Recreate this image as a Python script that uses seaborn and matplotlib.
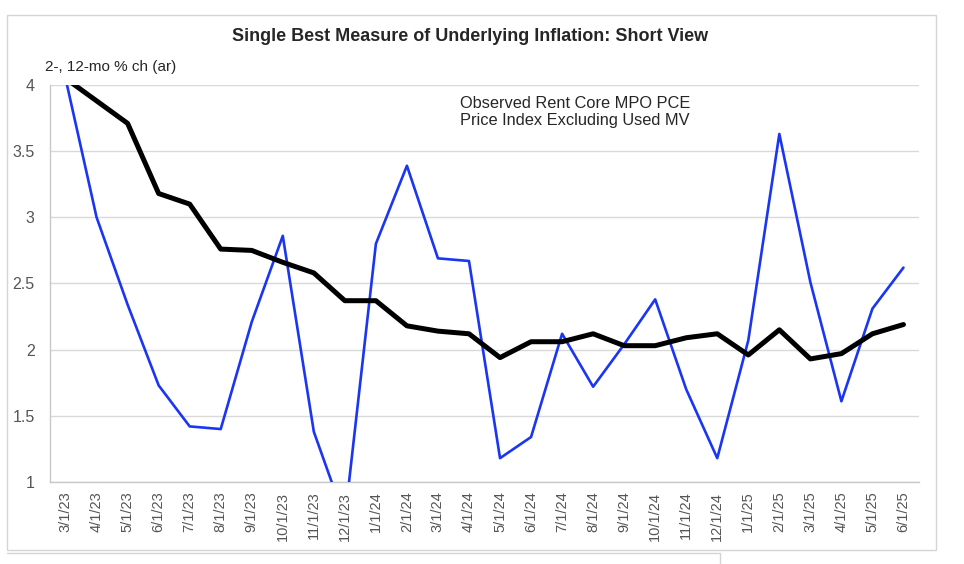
"""
Single Best Measure of Underlying Inflation: Short View
Observed rent core MPO PCE price index excluding used MV vs. its 12-mo change.
"""

import numpy as np
import pandas as pd
import seaborn as sns
import matplotlib.pyplot as plt
from matplotlib.patches import Rectangle
from matplotlib.lines import Line2D


# ---------------------------
# Data
# ---------------------------

months = [
    "3/1/23", "4/1/23", "5/1/23", "6/1/23", "7/1/23", "8/1/23", "9/1/23",
    "10/1/23", "11/1/23", "12/1/23", "1/1/24", "2/1/24", "3/1/24", "4/1/24",
    "5/1/24", "6/1/24", "7/1/24", "8/1/24", "9/1/24", "10/1/24", "11/1/24",
    "12/1/24", "1/1/25", "2/1/25", "3/1/25", "4/1/25", "5/1/25", "6/1/25",
]

two_month = [
    4.05, 3.00, 2.34, 1.73, 1.42, 1.40, 2.21, 2.86, 1.38, 0.72,
    2.80, 3.39, 2.69, 2.67, 1.18, 1.34, 2.12, 1.72, 2.04, 2.38,
    1.70, 1.18, 2.07, 3.63, 2.51, 1.61, 2.31, 2.62,
]

twelve_month = [
    4.05, 3.88, 3.71, 3.18, 3.10, 2.76, 2.75, 2.66, 2.58, 2.37,
    2.37, 2.18, 2.14, 2.12, 1.94, 2.06, 2.06, 2.12, 2.03, 2.03,
    2.09, 2.12, 1.96, 2.15, 1.93, 1.97, 2.12, 2.19,
]

y_ticks = [1, 1.5, 2, 2.5, 3, 3.5, 4]

df = pd.DataFrame({
    "pos": np.arange(len(months)),
    "month": months,
    "two_month": two_month,
    "twelve_month": twelve_month,
})


# ---------------------------
# Style
# ---------------------------

sns.set_theme(style="white")
plt.rcParams["font.family"] = ["Liberation Sans", "DejaVu Sans"]

tick_gray = "#555555"
grid_gray = "#d9d9d9"


# ---------------------------
# Figure
# ---------------------------

fig = plt.figure(figsize=(9.64, 5.64), dpi=100)
ax = fig.add_axes([0.0519, 0.1454, 0.9014, 0.7039])

# outer chart frame
fig.patches.append(Rectangle(
    (7 / 964, 1 - 550 / 564), 929 / 964, 535 / 564,
    transform=fig.transFigure, fill=False, edgecolor="#d4d4d4", linewidth=1.0
))
fig.lines.append(Line2D([7 / 964, 720 / 964], [1 - 553 / 564] * 2,
                        transform=fig.transFigure, color="#d4d4d4", lw=1.0))
fig.lines.append(Line2D([720 / 964, 720 / 964], [0, 1 - 553 / 564],
                        transform=fig.transFigure, color="#d4d4d4", lw=1.0))

sns.lineplot(data=df, x="pos", y="two_month", ax=ax, sort=False,
             color="#1a36f5", linewidth=1.9, zorder=3)
sns.lineplot(data=df, x="pos", y="twelve_month", ax=ax, sort=False,
             color="black", linewidth=3.6, zorder=4,
             solid_capstyle="round", solid_joinstyle="round")


# ---------------------------
# Axes
# ---------------------------

ax.set_xlim(-0.5, len(months) - 0.5)
ax.set_ylim(1, 4)

ax.set_yticks(y_ticks)
ax.set_yticklabels([f"{v:g}" for v in y_ticks])
ax.set_xticks(df["pos"])
ax.set_xticklabels(months, rotation=90)
ax.set_xticks(np.arange(-0.5, len(months)), minor=True)

ax.set_xlabel("")
ax.set_ylabel("")

ax.yaxis.grid(True, color=grid_gray, linewidth=1.0)
ax.set_axisbelow(True)

for side, spine in ax.spines.items():
    if side in ["left", "bottom"]:
        spine.set_visible(True)
        spine.set_color("#c8c8c8")
        spine.set_linewidth(1.0)
    else:
        spine.set_visible(False)

ax.tick_params(axis="y", length=0, pad=11, labelsize=11.5, labelcolor=tick_gray)
ax.tick_params(axis="x", which="major", length=0, pad=7,
               labelsize=10.5, labelcolor=tick_gray)
ax.tick_params(axis="x", which="minor", length=4, width=1.0,
               color="#c8c8c8", direction="out")


# ---------------------------
# Text
# ---------------------------

fig.text(0.4876, 0.936, "Single Best Measure of Underlying Inflation: Short View",
         ha="center", va="center", fontsize=13, fontweight="bold")
fig.text(0.0467, 0.881, "2-, 12-mo % ch (ar)",
         ha="left", va="center", fontsize=11)
ax.text(0.604, 0.932,
        "Observed Rent Core MPO PCE\nPrice Index Excluding Used MV",
        transform=ax.transAxes, ha="center", va="center",
        multialignment="center", fontsize=11.8, linespacing=1.1)

fig.savefig("out.png", dpi=100)
